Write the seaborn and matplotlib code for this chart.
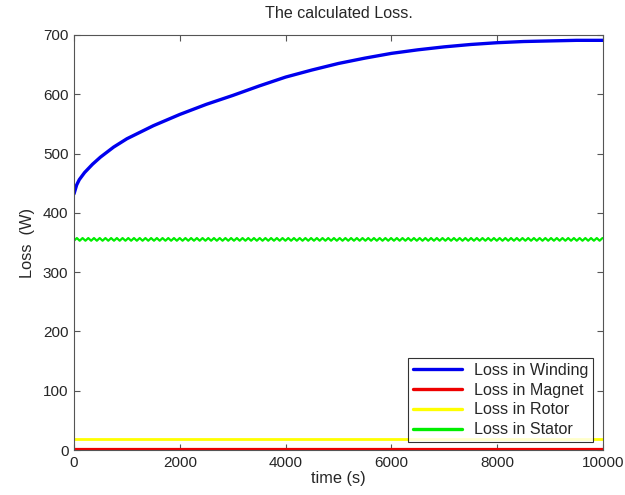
import matplotlib
matplotlib.use("Agg")
import matplotlib.pyplot as plt
import seaborn as sns
import pandas as pd
import numpy as np

# values
winding_t = [0, 50, 100, 200, 350, 500, 750, 1000, 1500, 2000, 2500, 3000,
             3500, 4000, 4500, 5000, 5500, 6000, 6500, 7000, 7500, 8000,
             8500, 9000, 9500, 10000]
winding_w = [432, 447, 456, 468, 482, 494, 511, 525, 547, 566, 583, 598,
             614, 629, 641, 652, 661, 669, 675, 680, 684, 687,
             689, 690, 691, 691]

# stator ripple: one low/high pair, repeated roughly every 108 s
stator_half_period = 54
stator_ripple = [353.0, 357.5]

rotor_level = 18.5
magnet_level = 1.0

series_names = ["Loss in Winding", "Loss in Magnet", "Loss in Rotor", "Loss in Stator"]
series_colors = ["#0000ee", "#ee0000", "#ffff00", "#00ee00"]

# build a long table for seaborn
stator_t = np.arange(0, 10001, stator_half_period)
stator_w = np.resize(stator_ripple, len(stator_t))
flat_t = [0, 10000]

frames = [
    pd.DataFrame({"t": winding_t, "w": winding_w, "s": series_names[0]}),
    pd.DataFrame({"t": flat_t, "w": [magnet_level] * 2, "s": series_names[1]}),
    pd.DataFrame({"t": flat_t, "w": [rotor_level] * 2, "s": series_names[2]}),
    pd.DataFrame({"t": stator_t, "w": stator_w, "s": series_names[3]}),
]
df = pd.concat(frames, ignore_index=True)

sns.set_theme(style="ticks")
plt.rcParams["font.family"] = ["Liberation Sans", "DejaVu Sans"]

fig = plt.figure(figsize=(6.25, 4.95), dpi=100)
ax = fig.add_axes([0.1184, 0.0909, 0.8464, 0.8384])

widths = {series_names[0]: 2.4, series_names[1]: 1.6,
          series_names[2]: 2.0, series_names[3]: 1.6}
for name, color in zip(series_names, series_colors):
    sub = df[df["s"] == name]
    sns.lineplot(data=sub, x="t", y="w", ax=ax, color=color,
                 linewidth=widths[name], label=name, estimator=None, sort=False)

ax.set_xlim(0, 10000)
ax.set_ylim(0, 700)
ax.set_xticks(range(0, 10001, 2000))
ax.set_yticks(range(0, 701, 100))
ax.tick_params(direction="in", top=True, right=True, length=4, width=0.8,
               labelsize=11, color="#555555", pad=4)
for sp in ax.spines.values():
    sp.set_visible(True)
    sp.set_color("#555555")
    sp.set_linewidth(0.8)

ax.set_title("The calculated Loss.", fontsize=11.6, pad=12)
ax.set_xlabel("time (s)", fontsize=11.8, labelpad=1)
ax.set_ylabel("Loss  (W)", fontsize=11.8, labelpad=6)

leg = ax.legend(loc="lower right", bbox_to_anchor=(0.981, 0.019),
                borderaxespad=0, fontsize=11.6, frameon=True, fancybox=False,
                handlelength=3.1, handletextpad=0.7, borderpad=0.3,
                labelspacing=0.3)
leg.get_frame().set_edgecolor("black")
leg.get_frame().set_linewidth(0.8)
for line in leg.get_lines():
    line.set_linewidth(2.4)

fig.savefig("out.png", dpi=100)
plt.close(fig)
